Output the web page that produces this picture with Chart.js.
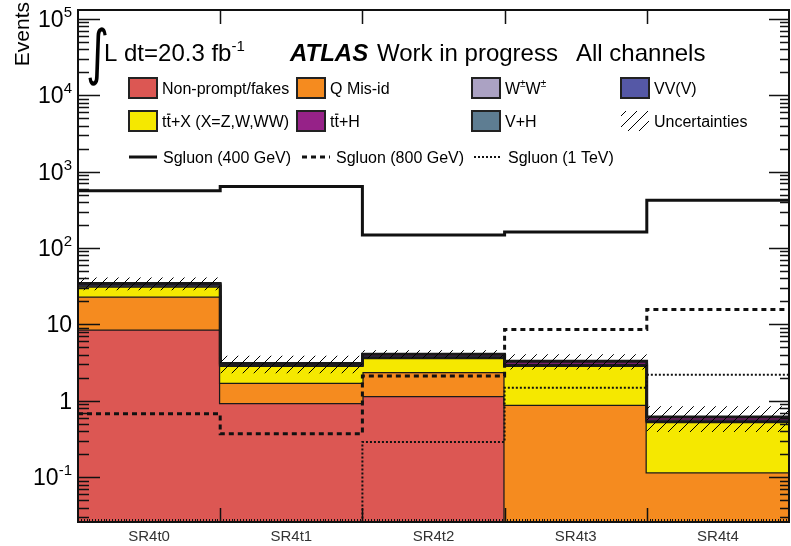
<!DOCTYPE html>
<html>
<head>
<meta charset="utf-8">
<script src="https://cdn.jsdelivr.net/npm/chart.js@4.4.0/dist/chart.umd.min.js"></script>
<style>
html, body { margin: 0; padding: 0; background: #fff; }
</style>
</head>
<body>
<canvas id="chart" width="791" height="546"></canvas>
<script>
"use strict";

var FONT = '"Liberation Sans", Arial, Helvetica, sans-serif';
Chart.defaults.font.family = FONT;
Chart.defaults.color = '#000';

var Y_MIN = 0.026, Y_MAX = 1.3e5;

// regions, bin edges run 0..5
var categories = ['SR4t0', 'SR4t1', 'SR4t2', 'SR4t3', 'SR4t4'];
var binEdges = [0, 1, 2, 3, 4, 5];

// backgrounds (events per region), stacked bottom to top
var nonPrompt = [8.6, 0.94, 1.16, 0, 0];
var qMisId = [14.6, 0.78, 1.23, 0.89, 0.116];
var ttX = [8.2, 1.15, 1.26, 1.98, 0.414];
var wpwp = [1.0, 0.06, 0.12, 0.10, 0.02];
var vvv = [1.2, 0.07, 0.15, 0.10, 0.02];
var ttH = [0.7, 0.08, 0.14, 0.20, 0.04];
var vH = [0.3, 0.02, 0.04, 0.06, 0.01];
var uncert = [6.5, 0.8, 0.5, 0.75, 0.23];

// signals
var sgluon400 = [560, 640, 148, 162, 420];
var sgluon800 = [0.68, 0.37, 2.12, 8.6, 15.7];
var sgluon1TeV = [0, 0, 0.29, 1.48, 2.19];

// y labels: decade exponents, "1" and "10" written plain
var yDecades = [-1, 0, 1, 2, 3, 4, 5];

function steps(vals) {
    var pts = vals.map(function (v, i) {
        return {x: binEdges[i], y: Math.max(v, Y_MIN)};
    });
    pts.push({x: binEdges[vals.length], y: Math.max(vals[vals.length - 1], Y_MIN)});
    return pts;
}

function makeHatch() {
    var c = document.createElement('canvas');
    c.width = 11;
    c.height = 11;
    var g = c.getContext('2d');
    g.strokeStyle = '#000';
    g.lineWidth = 1;
    g.beginPath();
    g.moveTo(0, 11); g.lineTo(11, 0);
    g.moveTo(-1, 1); g.lineTo(1, -1);
    g.moveTo(10, 12); g.lineTo(12, 10);
    g.stroke();
    return g.createPattern(c, 'repeat');
}
var hatch = makeHatch();

var stackDefs = [
    {label: 'Non-prompt/fakes', data: nonPrompt, color: '#dc5753'},
    {label: 'Q Mis-id', data: qMisId, color: '#f58b1f'},
    {label: 'ttX', data: ttX, color: '#f5e800'},
    {label: 'WW', data: wpwp, color: '#aba2c3'},
    {label: 'VV(V)', data: vvv, color: '#5558a6'},
    {label: 'ttH', data: ttH, color: '#962288'},
    {label: 'V+H', data: vH, color: '#5e7d92'}
];

var running = [0, 0, 0, 0, 0];
var datasets = stackDefs.map(function (d, k) {
    running = running.map(function (r, i) { return r + d.data[i]; });
    return {
        label: d.label,
        data: steps(running),
        stepped: 'before',
        backgroundColor: d.color,
        borderColor: '#1a1a1a',
        borderWidth: 2.5,
        fill: k === 0 ? 'start' : '-1',
        pointRadius: 0,
        order: 30 - k
    };
});
var total = running;

datasets.push({
    label: 'uncLo',
    data: steps(total.map(function (t, i) { return t - uncert[i]; })),
    stepped: 'before', borderColor: 'rgba(0,0,0,0)', borderWidth: 0,
    fill: false, pointRadius: 0, order: 21
});
datasets.push({
    label: 'Uncertainties',
    data: steps(total.map(function (t, i) { return t + uncert[i]; })),
    stepped: 'before', borderColor: 'rgba(0,0,0,0)', borderWidth: 0,
    backgroundColor: hatch, fill: '-1', pointRadius: 0, order: 20
});
datasets.push({
    label: 'Sgluon (400 GeV)', data: steps(sgluon400), stepped: 'before',
    borderColor: '#111', borderWidth: 3, fill: false, pointRadius: 0, order: 3
});
datasets.push({
    label: 'Sgluon (800 GeV)', data: steps(sgluon800), stepped: 'before',
    borderColor: '#111', borderWidth: 3, borderDash: [5, 4], fill: false, pointRadius: 0, order: 2
});
datasets.push({
    label: 'Sgluon (1 TeV)', data: steps(sgluon1TeV), stepped: 'before',
    borderColor: '#111', borderWidth: 2, borderDash: [2, 2], fill: false, pointRadius: 0, order: 1
});

function richText(ctx, x, y, parts, size) {
    parts.forEach(function (p) {
        var s = p.sup ? Math.round(size * 0.62) : size;
        ctx.font = (p.style || '') + ' ' + s + 'px ' + FONT;
        var yy = p.sup ? y - size * 0.42 : y;
        ctx.fillText(p.t, x, yy);
        var w = ctx.measureText(p.t).width;
        if (p.bar) {
            ctx.save();
            ctx.lineWidth = 1.2;
            ctx.beginPath();
            ctx.moveTo(x + 0.5, y - size * 0.8);
            ctx.lineTo(x + w - 0.5, y - size * 0.8);
            ctx.stroke();
            ctx.restore();
        }
        x += w;
    });
    return x;
}

var legendBoxes = [
    {x: 129, y: 88, color: '#dc5753', parts: [{t: 'Non-prompt/fakes'}]},
    {x: 297, y: 88, color: '#f58b1f', parts: [{t: 'Q Mis-id'}]},
    {x: 472, y: 88, color: '#aba2c3', parts: [{t: 'W'}, {t: '\u00B1', sup: true}, {t: 'W'}, {t: '\u00B1', sup: true}]},
    {x: 621, y: 88, color: '#5558a6', parts: [{t: 'VV(V)'}]},
    {x: 129, y: 121, color: '#f5e800', parts: [{t: 't'}, {t: 't', bar: true}, {t: '+X (X=Z,W,WW)'}]},
    {x: 297, y: 121, color: '#962288', parts: [{t: 't'}, {t: 't', bar: true}, {t: '+H'}]},
    {x: 472, y: 121, color: '#5e7d92', parts: [{t: 'V+H'}]},
    {x: 621, y: 121, hatch: true, parts: [{t: 'Uncertainties'}]}
];
var legendLines = [
    {x: 129, y: 157, width: 3, dash: [], label: 'Sgluon (400 GeV)'},
    {x: 302, y: 157, width: 3, dash: [5, 4], label: 'Sgluon (800 GeV)'},
    {x: 474, y: 157, width: 2, dash: [2, 2], label: 'Sgluon (1 TeV)'}
];

var decorations = {
    id: 'decorations',
    afterDatasetsDraw: function (chart) {
        var ctx = chart.ctx, a = chart.chartArea;
        var ys = chart.scales.y, xs = chart.scales.x;
        ctx.save();
        ctx.strokeStyle = '#111';
        ctx.lineWidth = 1.5;
        ctx.beginPath();
        for (var d = -2; d <= 5; d++) {
            for (var m = 1; m <= 9; m++) {
                var v = m * Math.pow(10, d);
                if (v < Y_MIN || v > Y_MAX) continue;
                var py = Math.round(ys.getPixelForValue(v)) + 0.5;
                var len = m === 1 ? 22 : 11;
                ctx.moveTo(a.left, py); ctx.lineTo(a.left + len, py);
                ctx.moveTo(a.right, py); ctx.lineTo(a.right - len + 2, py);
            }
        }
        for (var e = 1; e < binEdges.length - 1; e++) {
            var px = Math.round(xs.getPixelForValue(binEdges[e])) + 0.5;
            ctx.moveTo(px, a.top); ctx.lineTo(px, a.top + 14);
            ctx.moveTo(px, a.bottom); ctx.lineTo(px, a.bottom - 14);
        }
        ctx.stroke();
        ctx.lineWidth = 1;
        ctx.beginPath();
        for (var t = 0; t <= 250; t++) {
            var qx = Math.round(xs.getPixelForValue(t / 50)) + 0.5;
            ctx.moveTo(qx, a.bottom); ctx.lineTo(qx, a.bottom - 3);
        }
        ctx.stroke();
        ctx.lineWidth = 2;
        ctx.strokeRect(a.left, a.top, a.right - a.left, a.bottom - a.top);
        ctx.restore();
    },
    afterDraw: function (chart) {
        var ctx = chart.ctx;
        var ys = chart.scales.y;
        ctx.save();
        ctx.fillStyle = '#000';
        ctx.strokeStyle = '#000';
        ctx.textBaseline = 'alphabetic';
        ctx.textAlign = 'left';

        // y tick labels with superscript exponents
        yDecades.forEach(function (p) {
            var py = ys.getPixelForValue(Math.pow(10, p));
            var base = p === 0 ? '1' : '10';
            var sup = (p === 0 || p === 1) ? '' : String(p);
            ctx.font = '23px ' + FONT;
            var wb = ctx.measureText(base).width;
            ctx.font = '15px ' + FONT;
            var ws = sup ? ctx.measureText(sup).width : 0;
            var x0 = 72 - wb - ws;
            ctx.font = '23px ' + FONT;
            ctx.fillText(base, x0, py + 8);
            if (sup) {
                ctx.font = '15px ' + FONT;
                ctx.fillText(sup, x0 + wb, py - 2);
            }
        });

        // y title
        ctx.save();
        ctx.translate(29, 2);
        ctx.rotate(-Math.PI / 2);
        ctx.textAlign = 'right';
        ctx.font = '21px ' + FONT;
        ctx.fillText('Events', 0, 0);
        ctx.restore();

        // header
        ctx.save();
        ctx.translate(86, 73);
        ctx.scale(0.8, 1.08);
        ctx.font = '56px "DejaVu Sans", ' + FONT;
        ctx.fillText('\u222B', 0, 0);
        ctx.restore();
        richText(ctx, 104, 61, [{t: 'L dt=20.3 fb'}, {t: '-1', sup: true}], 24);
        richText(ctx, 290, 61, [{t: 'ATLAS', style: 'italic bold'}], 24);
        richText(ctx, 377, 61, [{t: 'Work in progress'}], 24);
        richText(ctx, 576, 61, [{t: 'All channels'}], 24);

        // legend
        legendBoxes.forEach(function (b) {
            var bx = b.x, by = b.y - 10;
            if (b.hatch) {
                ctx.fillStyle = hatch;
                ctx.fillRect(bx, by, 28, 20);
                ctx.fillStyle = '#000';
            } else {
                ctx.fillStyle = b.color;
                ctx.fillRect(bx, by, 28, 20);
                ctx.lineWidth = 2;
                ctx.strokeStyle = '#222';
                ctx.strokeRect(bx, by, 28, 20);
                ctx.fillStyle = '#000';
                ctx.strokeStyle = '#000';
            }
            richText(ctx, bx + 33, b.y + 6, b.parts, 16);
        });
        legendLines.forEach(function (l) {
            ctx.save();
            ctx.lineWidth = l.width;
            ctx.setLineDash(l.dash);
            ctx.strokeStyle = '#111';
            ctx.beginPath();
            ctx.moveTo(l.x, l.y);
            ctx.lineTo(l.x + 28, l.y);
            ctx.stroke();
            ctx.restore();
            richText(ctx, l.x + 34, l.y + 6, [{t: l.label}], 16);
        });
        ctx.restore();
    }
};

var chart = new Chart(document.getElementById('chart').getContext('2d'), {
    type: 'line',
    data: {datasets: datasets},
    options: {
        responsive: false,
        animation: false,
        events: [],
        layout: {padding: {top: 10, right: 2, left: 0, bottom: 0}},
        plugins: {legend: {display: false}, tooltip: {enabled: false}},
        scales: {
            x: {
                type: 'linear',
                min: 0,
                max: 5,
                grid: {display: false, drawTicks: false},
                border: {display: false},
                afterBuildTicks: function (scale) {
                    scale.ticks = categories.map(function (c, i) { return {value: i + 0.5}; });
                },
                afterFit: function (scale) { scale.height = 24; },
                ticks: {
                    autoSkip: false,
                    maxRotation: 0,
                    padding: 6,
                    color: '#333',
                    font: {size: 15},
                    callback: function (v) { return categories[Math.floor(v)]; }
                }
            },
            y: {
                type: 'logarithmic',
                min: Y_MIN,
                max: Y_MAX,
                grid: {display: false, drawTicks: false},
                border: {display: false},
                afterFit: function (scale) { scale.width = 78; },
                ticks: {display: false}
            }
        }
    },
    plugins: [decorations]
});
</script>
</body>
</html>
